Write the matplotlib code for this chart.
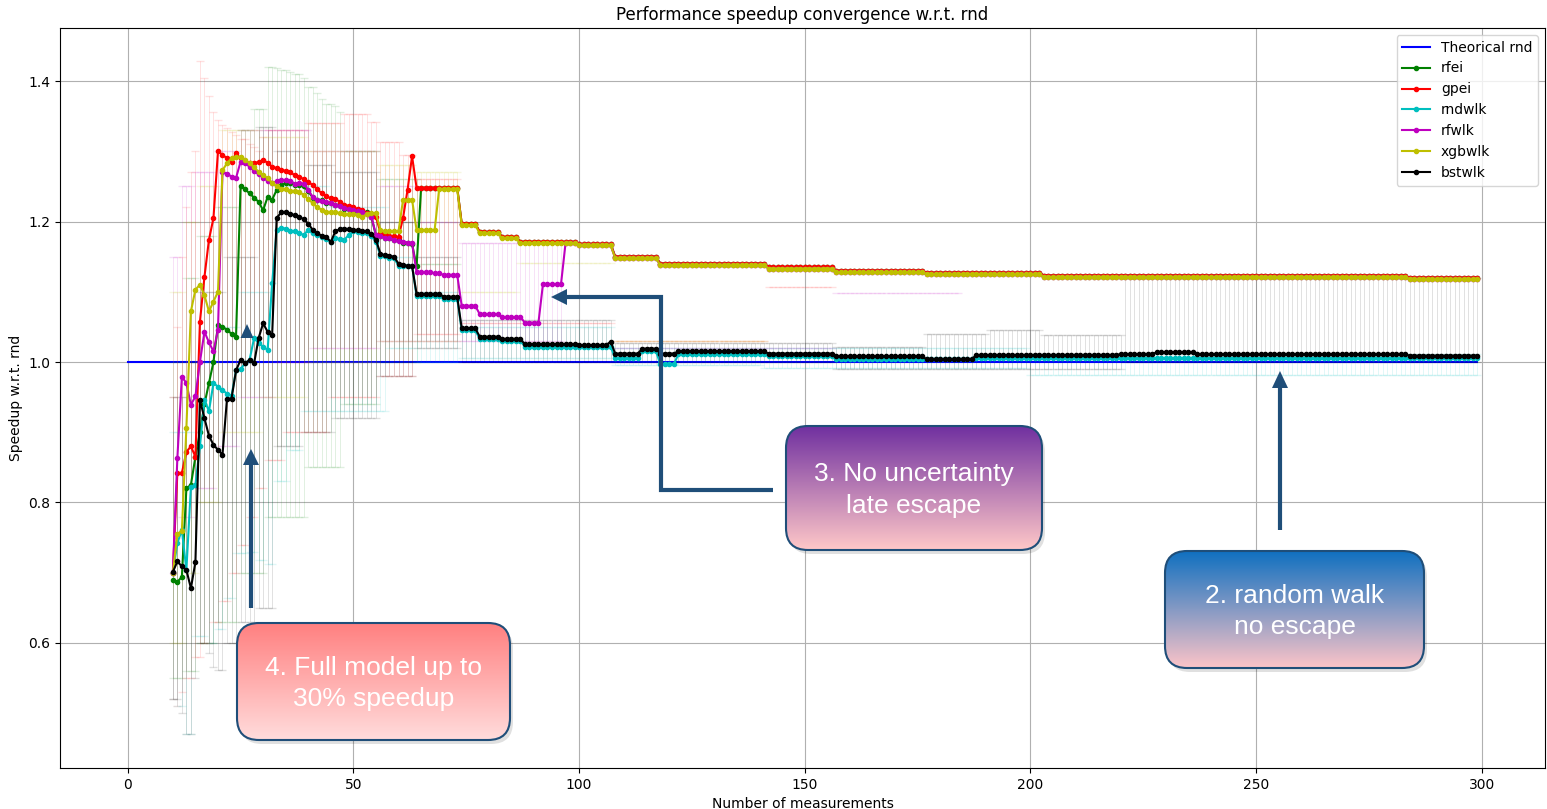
import numpy as np
import matplotlib
matplotlib.use("Agg")
import matplotlib.pyplot as plt
from matplotlib.patches import FancyBboxPatch, Polygon
from matplotlib.colors import LinearSegmentedColormap, to_rgba

nan = np.nan

X0, X1 = 10, 300
rnd_x = list(range(0, 300))
rnd_y = [1.0] * 300

top_late = [(74, 1.195), (78, 1.183), (83, 1.176), (87, 1.169), (100, 1.166), (108, 1.148),
            (118, 1.138), (142, 1.133), (157, 1.128), (177, 1.125), (203, 1.121), (284, 1.118)]
gpei_late = [(74, 1.197), (78, 1.185), (83, 1.178), (87, 1.171), (100, 1.168), (108, 1.150),
             (118, 1.140), (142, 1.135), (157, 1.130), (177, 1.127), (203, 1.123), (284, 1.120)]

gpei = [(10, 0.70), (11, 0.842), (12, 0.842), (13, 0.872), (14, 0.88), (15, 0.865), (16, 1.057),
        (17, 1.121), (18, 1.174), (19, 1.205), (20, 1.30), (21, 1.295), (22, 1.29), (23, 1.285),
        (24, 1.297), (25, 1.29), (26, 1.285), (27, 1.284), (28, 1.283), (29, 1.285), (30, 1.287),
        (31, 1.284), (32, 1.278), (33, 1.276), (34, 1.274), (35, 1.272), (36, 1.27), (37, 1.266),
        (38, 1.264), (39, 1.26), (40, 1.256), (41, 1.252), (42, 1.246), (43, 1.24), (44, 1.236),
        (45, 1.233), (46, 1.232), (47, 1.228), (48, 1.224), (49, 1.222), (50, 1.22), (51, 1.218),
        (52, 1.216), (53, 1.212), (54, 1.21), (55, 1.207), (56, 1.184), (57, 1.182), (58, 1.18),
        (59, 1.179), (60, 1.178), (61, 1.205), (62, 1.245), (63, 1.293), (64, 1.248)] + gpei_late

rfei = [(10, 0.69), (11, 0.687), (12, 0.694), (13, 0.82), (14, 0.825), (15, 0.865), (16, 0.9),
        (17, 0.94), (18, 0.97), (19, 1.0), (20, 1.053), (21, 1.05), (22, 1.046), (23, 1.04),
        (24, 1.036), (25, 1.25), (26, 1.246), (27, 1.24), (28, 1.234), (29, 1.228), (30, 1.216),
        (31, 1.235), (32, 1.231), (33, 1.245), (34, 1.252), (35, 1.255), (37, 1.252), (39, 1.25),
        (40, 1.243), (41, 1.234), (42, 1.23), (44, 1.227), (46, 1.223), (48, 1.218), (50, 1.215),
        (52, 1.213), (54, 1.206), (55, 1.18), (57, 1.176), (59, 1.173), (61, 1.17), (63, 1.168),
        (64, 1.136), (65, 1.248)] + gpei_late

rndwlk = [(10, 0.70), (11, 0.742), (12, 0.761), (13, 0.704), (14, 0.822), (15, 0.825), (16, 0.88),
          (17, 0.946), (18, 0.93), (19, 0.97), (20, 0.965), (21, 0.96), (22, 0.955), (23, 0.952),
          (24, 0.988), (25, 0.99), (26, 0.998), (27, 1.003), (28, 1.034), (29, 1.027), (30, 1.022),
          (31, 1.017), (32, 1.112), (33, 1.188), (34, 1.191), (35, 1.19), (36, 1.187), (37, 1.186),
          (38, 1.183), (39, 1.181), (40, 1.188), (41, 1.183), (42, 1.181), (43, 1.178), (44, 1.175),
          (45, 1.171), (46, 1.176), (47, 1.175), (48, 1.174), (49, 1.181), (50, 1.186), (51, 1.185),
          (52, 1.184), (53, 1.183), (54, 1.179), (55, 1.171), (56, 1.151), (58, 1.148), (60, 1.137),
          (64, 1.094), (70, 1.09), (74, 1.045), (78, 1.033), (83, 1.03), (88, 1.022), (108, 1.005),
          (114, 1.016), (118, 0.997), (122, 1.011), (142, 1.008), (157, 1.004), (188, 1.005)]

rfwlk = [(10, 0.70), (11, 0.863), (12, 0.979), (13, 0.97), (14, 0.939), (15, 0.951), (16, 1.0),
         (17, 1.043), (18, 1.028), (19, 1.015), (20, 1.046), (21, 1.271), (22, 1.268), (23, 1.264),
         (24, 1.262), (25, 1.285), (26, 1.283), (27, 1.278), (28, 1.272), (29, 1.267), (30, 1.262),
         (31, 1.258), (32, 1.255), (33, 1.257), (34, 1.259), (36, 1.258), (37, 1.254), (38, 1.255),
         (39, 1.254), (40, 1.245), (41, 1.235), (42, 1.231), (43, 1.229), (44, 1.228), (45, 1.226),
         (46, 1.224), (47, 1.222), (48, 1.219), (49, 1.218), (50, 1.216), (51, 1.215), (52, 1.214),
         (53, 1.21), (54, 1.207), (55, 1.181), (56, 1.179), (57, 1.177), (58, 1.176), (59, 1.174),
         (60, 1.172), (61, 1.171), (62, 1.17), (63, 1.169), (64, 1.128), (68, 1.126), (70, 1.124),
         (74, 1.08), (78, 1.068), (83, 1.064), (88, 1.056), (92, 1.111), (97, 1.169)] + top_late[4:]

xgbwlk = [(10, 0.70), (11, 0.755), (12, 0.76), (13, 0.906), (14, 1.072), (15, 1.103), (16, 1.11),
          (17, 1.095), (18, 1.072), (19, 1.086), (20, 1.10), (21, 1.273), (22, 1.283), (23, 1.29),
          (24, 1.292), (25, 1.292), (26, 1.288), (27, 1.283), (28, 1.277), (29, 1.271), (30, 1.266),
          (31, 1.262), (32, 1.255), (33, 1.25), (34, 1.247), (35, 1.246), (36, 1.244), (37, 1.243),
          (38, 1.242), (39, 1.238), (40, 1.232), (41, 1.226), (42, 1.22), (43, 1.217), (44, 1.214),
          (45, 1.213), (47, 1.212), (48, 1.211), (49, 1.21), (51, 1.209), (52, 1.207), (53, 1.21),
          (54, 1.212), (56, 1.188), (57, 1.186), (61, 1.231), (64, 1.188), (69, 1.246)] + top_late

bstwlk = [(10, 0.701), (11, 0.716), (12, 0.709), (13, 0.704), (14, 0.678), (15, 0.715), (16, 0.946),
          (17, 0.92), (18, 0.895), (19, 0.882), (20, 0.875), (21, 0.868), (22, 0.948), (23, 0.948),
          (24, 0.988), (25, 1.003), (26, 0.998), (27, 1.003), (28, 0.998), (29, 1.034), (30, 1.055),
          (31, 1.043), (32, 1.038), (33, 1.205), (34, 1.213), (35, 1.214), (36, 1.211), (37, 1.209),
          (38, 1.207), (39, 1.203), (40, 1.197), (41, 1.188), (42, 1.183), (43, 1.18), (44, 1.178),
          (45, 1.171), (46, 1.186), (47, 1.189), (48, 1.19), (49, 1.189), (50, 1.188), (52, 1.187),
          (53, 1.186), (54, 1.182), (55, 1.174), (56, 1.154), (57, 1.152), (58, 1.151), (59, 1.15),
          (60, 1.14), (61, 1.138), (62, 1.137), (63, 1.136), (64, 1.097), (70, 1.093), (74, 1.048),
          (78, 1.036), (83, 1.033), (88, 1.025), (100, 1.024), (107, 1.029), (108, 1.012),
          (114, 1.019), (118, 1.012), (122, 1.015), (142, 1.012), (157, 1.008), (177, 1.004),
          (188, 1.01), (220, 1.011), (228, 1.014), (237, 1.011), (284, 1.009)]

# error bar bounds (lower / upper), nan = no bar
gpei_lo = [(10, 0.52), (11, 0.51), (12, 0.53), (13, 0.55), (15, 0.58), (17, 0.6), (19, 0.63),
           (21, 0.66), (23, 0.7), (25, 0.74), (27, 0.78), (29, 0.82), (31, 0.86), (35, 0.9),
           (45, 0.95), (56, 0.98), (64, 1.04), (74, 1.055), (108, 1.03), (142, 1.107), (157, nan)]
gpei_hi = [(10, 0.95), (11, 1.05), (12, 1.15), (13, 1.22), (14, 1.27), (15, 1.3), (16, 1.428),
           (17, 1.404), (18, 1.378), (19, 1.356), (20, 1.344), (21, 1.337), (22, 1.333), (23, 1.328),
           (24, 1.323), (25, 1.317), (27, 1.311), (28, 1.306), (29, 1.30), (30, 1.321), (31, 1.33),
           (40, 1.34), (48, 1.353), (54, 1.342), (56, 1.313), (61, 1.295), (64, 1.26), (74, nan)]
rfei_lo = [(10, 0.55), (13, 0.56), (16, 0.6), (20, 0.63), (25, 0.7), (31, 0.78), (40, 0.85),
           (48, 0.94), (56, 1.0), (65, 1.14), (74, nan)]
rfei_hi = [(10, 1.0), (13, 1.12), (16, 1.18), (20, 1.22), (25, 1.33), (28, 1.36), (31, 1.42),
           (33, 1.418), (34, 1.416), (36, 1.413), (37, 1.41), (39, 1.404), (40, 1.392), (42, 1.383),
           (43, 1.375), (44, 1.368), (46, 1.364), (47, 1.356), (48, 1.3), (56, 1.26), (65, nan)]
rndwlk_lo = [(10, 0.52), (11, 0.51), (13, 0.47), (15, 0.61), (18, 0.6), (20, 0.62), (22, 0.664),
             (24, 0.728), (27, 0.73), (29, 0.718), (31, 0.713), (33, 0.83), (36, 0.875), (39, 0.93),
             (58, 1.02), (64, 1.0), (74, 1.005), (108, 0.996), (141, 0.991), (200, 0.981)]
rndwlk_hi = [(10, 0.9), (15, 1.0), (20, 1.05), (25, 1.1), (33, 1.25), (45, 1.22), (58, 1.15),
             (64, 1.1), (74, 1.05), (108, 1.02), (200, 1.012)]
rfwlk_lo = [(10, 0.75), (12, 0.78), (15, 0.82), (20, 0.88), (25, 0.95), (33, 1.0), (41, 1.02),
            (56, 1.03), (97, 1.02), (157, 1.098), (185, nan)]
rfwlk_hi = [(10, 1.15), (12, 1.25), (15, 1.27), (20, 1.3), (25, 1.33), (41, 1.3), (56, 1.25),
            (64, 1.2), (74, 1.17), (97, nan)]
xgbwlk_lo = [(10, 0.6), (13, 0.7), (16, 0.8), (21, 0.9), (30, 0.95), (40, 1.0), (56, 1.03),
             (74, 1.1), (87, 1.141), (108, 1.03), (142, nan)]
xgbwlk_hi = [(10, 1.1), (13, 1.2), (16, 1.25), (21, 1.33), (30, 1.32), (40, 1.3), (56, 1.28),
             (64, 1.27), (74, nan)]
bstwlk_lo = [(10, 0.52), (12, 0.5), (13, 0.47), (15, 0.55), (16, 0.6), (18, 0.586), (19, 0.566),
             (20, 0.562), (22, 0.6), (25, 0.63), (29, 0.65), (33, 0.88), (39, 0.9), (46, 0.92),
             (56, 0.98), (64, 1.02), (74, 1.0), (157, 0.99), (221, 1.0)]
bstwlk_hi = [(10, 0.95), (14, 1.0), (16, 1.1), (22, 1.15), (29, 1.335), (33, 1.3), (40, 1.28),
             (46, 1.27), (56, 1.2), (64, 1.15), (74, 1.06), (108, 1.027), (157, 1.022), (177, 1.04),
             (191, 1.045), (203, 1.038), (221, 1.12)]


def hold(steps):
    # each read value holds until the next change point
    out = np.full(X1 - X0, nan)
    for i, (xs, v) in enumerate(steps):
        xe = steps[i + 1][0] if i + 1 < len(steps) else X1
        out[xs - X0:xe - X0] = v
    return out


x = np.arange(X0, X1)
series = [
    ('rfei', 'g', rfei, rfei_lo, rfei_hi),
    ('gpei', 'r', gpei, gpei_lo, gpei_hi),
    ('rndwlk', 'c', rndwlk, rndwlk_lo, rndwlk_hi),
    ('rfwlk', 'm', rfwlk, rfwlk_lo, rfwlk_hi),
    ('xgbwlk', 'y', xgbwlk, xgbwlk_lo, xgbwlk_hi),
    ('bstwlk', 'k', bstwlk, bstwlk_lo, bstwlk_hi),
]

fig = plt.figure(figsize=(15.47, 8.09), dpi=100)
ax = fig.add_axes([60 / 1547, 41 / 809, 1485 / 1547, 740 / 809])

handles = ax.plot(rnd_x, rnd_y, 'b-')
labels = ['Theorical rnd']
for name, c, vals, lo, hi in series:
    y = hold(vals)
    elo = np.clip(y - hold(lo), 0, None)
    ehi = np.clip(hold(hi) - y, 0, None)
    eb = ax.errorbar(x, y, yerr=[elo, ehi], fmt='.-', color=c, ecolor=to_rgba(c, 0.12),
                     elinewidth=0.7, capsize=3, markersize=6)
    handles.append(eb[0])
    labels.append(name)

ax.set_xlim(-15, 314)
ax.set_ylim(0.422, 1.4755)
ax.grid(True)
ax.set_title('Performance speedup convergence w.r.t. rnd')
ax.set_xlabel('Number of measurements')
ax.set_ylabel('Speedup w.r.t. rnd')
ax.legend(handles, labels, loc='upper right')

# call-outs drawn on top in pixel space (y down)
ov = fig.add_axes([0, 0, 1, 1])
ov.set_xlim(0, 1547)
ov.set_ylim(809, 0)
ov.set_autoscale_on(False)
ov.axis('off')

navy = '#1f4e79'


def callout(x0, y0, x1, y1, top, bottom, text):
    ov.add_patch(FancyBboxPatch((x0 + 3, y0 + 4), x1 - x0, y1 - y0,
                                boxstyle='round,pad=0,rounding_size=22',
                                fc=(0, 0, 0, 0.12), ec='none', zorder=3))
    box = FancyBboxPatch((x0, y0), x1 - x0, y1 - y0, boxstyle='round,pad=0,rounding_size=22',
                         fc='none', ec=navy, lw=1.5, zorder=5)
    ov.add_patch(box)
    cm = LinearSegmentedColormap.from_list('grad', [top, bottom])
    im = ov.imshow(np.linspace(0, 1, 256)[:, None], extent=(x0, x1, y1, y0), cmap=cm,
                   aspect='auto', origin='upper', zorder=4)
    im.set_clip_path(box)
    ov.text((x0 + x1) / 2, (y0 + y1) / 2 + 2, text, color='white', ha='center', va='center',
            fontsize=19, family='Liberation Sans', linespacing=1.4, zorder=6)


callout(237, 623, 510, 740, '#ff8080', '#ffdcdc', '4. Full model up to\n30% speedup')
callout(786, 426, 1042, 550, '#7030a0', '#ffc8c8', '3. No uncertainty\nlate escape')
callout(1165, 551, 1424, 668, '#1070c0', '#fcc4c8', '2. random walk\nno escape')

akw = dict(color=navy, lw=3, solid_capstyle='butt', solid_joinstyle='miter', zorder=6)
ov.plot([251, 251], [608, 463], **akw)
ov.add_patch(Polygon([(243, 465), (259, 465), (251, 449)], closed=True, fc=navy, ec='none', zorder=6))
ov.add_patch(Polygon([(240.5, 338), (253.5, 338), (247, 324)], closed=True, fc=navy, ec='none', zorder=6))
ov.plot([773, 661, 661, 566], [490, 490, 297, 297], **akw)
ov.add_patch(Polygon([(567, 289), (567, 305), (551, 297)], closed=True, fc=navy, ec='none', zorder=6))
ov.plot([1280, 1280], [530, 386], **akw)
ov.add_patch(Polygon([(1272, 388), (1288, 388), (1280, 371)], closed=True, fc=navy, ec='none', zorder=6))

fig.savefig('out.png', dpi=100)
